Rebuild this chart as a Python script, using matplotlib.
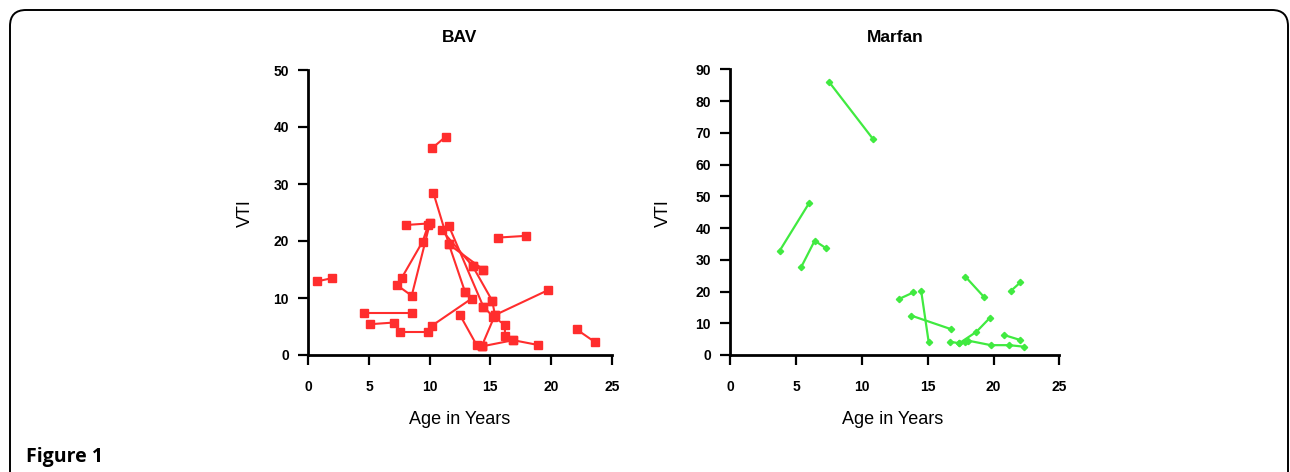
import matplotlib
matplotlib.use("Agg")
import matplotlib.pyplot as plt
from matplotlib.patches import FancyBboxPatch
from matplotlib.transforms import IdentityTransform

plt.rcParams['font.family'] = ['Liberation Sans', 'DejaVu Sans']

# ---------------- data ----------------
# BAV: each entry is one connected trajectory (age, VTI)
bav_age = [
    [0.69, 1.98],
    [10.21, 11.32],
    [22.1, 23.6],
    [15.65, 17.9],
    [4.59, 8.57],
    [5.08, 7.08],
    [7.55, 9.84],
    [10.16, 13.46, 12.91],
    [8.02, 10.02],
    [9.88, 9.42, 7.69, 7.28, 8.52, 10.02],
    [10.30, 11.59, 12.91],
    [11.59, 14.42],
    [10.99, 13.54, 15.16],
    [13.54, 14.42],
    [11.59, 14.42],
    [12.50, 13.87, 14.28],
    [14.28, 15.38, 19.77],
    [14.28, 16.89, 18.95],
    [14.42, 15.24, 16.20, 16.20, 16.89],
    [15.16, 15.38],
]
bav_vti = [
    [12.9, 13.5],
    [36.3, 38.3],
    [4.5, 2.3],
    [20.6, 20.9],
    [7.4, 7.4],
    [5.4, 5.7],
    [4.1, 4.1],
    [5.1, 9.9, 11.1],
    [22.8, 23.1],
    [22.8, 19.9, 13.5, 12.3, 10.4, 23.1],
    [28.5, 19.4, 11.1],
    [19.4, 15.0],
    [21.9, 15.6, 9.5],
    [15.6, 15.0],
    [22.6, 8.5],
    [7.0, 1.75, 1.5],
    [1.5, 7.0, 11.4],
    [1.5, 2.6, 1.75],
    [8.5, 6.7, 5.3, 3.3, 2.6],
    [9.5, 7.0],
]

# Marfan trajectories
mar_age = [
    [7.49, 10.87],
    [3.76, 5.98],
    [5.40, 6.41, 7.29],
    [12.8, 13.9],
    [14.5, 15.07],
    [13.76, 16.8],
    [17.86, 19.25],
    [21.35, 22.05],
    [19.7, 18.7, 17.4],
    [16.67, 17.4, 17.8, 18.1, 19.8, 21.2, 22.35],
    [20.8, 22.05],
]
mar_vti = [
    [86.1, 67.9],
    [32.9, 47.8],
    [27.8, 36.0, 33.6],
    [17.6, 19.7],
    [20.3, 4.2],
    [12.4, 8.1],
    [24.7, 18.4],
    [20.3, 22.9],
    [11.6, 7.3, 3.7],
    [4.2, 3.7, 4.2, 4.5, 3.1, 3.1, 2.6],
    [6.3, 4.7],
]

bav_xticks = [0, 5, 10, 15, 20, 25]
bav_yticks = [0, 10, 20, 30, 40, 50]
mar_xticks = [0, 5, 10, 15, 20, 25]
mar_yticks = [0, 10, 20, 30, 40, 50, 60, 70, 80, 90]

RED = '#ff2d2d'
GREEN = '#40ea40'

W, H = 1290, 472
fig = plt.figure(figsize=(W / 100, H / 100), dpi=100)

# rounded frame (display pixel coordinates)
frame = FancyBboxPatch((10, -40), 1278, H - 10 + 40,
                       boxstyle="round,pad=0,rounding_size=16",
                       transform=IdentityTransform(), fill=False,
                       edgecolor='black', linewidth=1.4)
fig.patches.append(frame)

def style_axes(ax, xticks, yticks, ymax):
    ax.set_xlim(0, 25)
    ax.set_ylim(0, ymax)
    ax.set_xticks(xticks)
    ax.set_yticks(yticks)
    for s in ['top', 'right']:
        ax.spines[s].set_visible(False)
    for s in ['left', 'bottom']:
        ax.spines[s].set_linewidth(2.0)
    ax.tick_params(axis='both', direction='out', length=7, width=1.6,
                   labelsize=10)
    ax.tick_params(axis='y', pad=7)
    ax.tick_params(axis='x', pad=11)
    for lab in ax.get_xticklabels() + ax.get_yticklabels():
        lab.set_fontweight('bold')
    ax.patch.set_alpha(0)

ax1 = fig.add_axes([308.3 / W, 117 / H, 303.4 / W, 285 / H])
for xs, ys in zip(bav_age, bav_vti):
    ax1.plot(xs, ys, color=RED, lw=1.5, marker='s', ms=5.5, mec=RED,
             mfc=RED, clip_on=False)
style_axes(ax1, bav_xticks, bav_yticks, 50)

ax2 = fig.add_axes([730.3 / W, 117 / H, 329 / W, 285.7 / H])
for xs, ys in zip(mar_age, mar_vti):
    ax2.plot(xs, ys, color=GREEN, lw=1.6, marker='D', ms=3.2, mec=GREEN,
             mfc=GREEN, clip_on=False)
style_axes(ax2, mar_xticks, mar_yticks, 90)

# titles and axis labels
fig.text(460 / W, 1 - 37 / H, 'BAV', ha='center', va='center',
         fontsize=12.5, fontweight='bold')
fig.text(895 / W, 1 - 37 / H, 'Marfan', ha='center', va='center',
         fontsize=12.5, fontweight='bold')
fig.text(245 / W, 1 - 213 / H, 'VTI', ha='center', va='center',
         fontsize=13, rotation=90)
fig.text(663 / W, 1 - 213 / H, 'VTI', ha='center', va='center',
         fontsize=13, rotation=90)
fig.text(460 / W, 1 - 419 / H, 'Age in Years', ha='center', va='center',
         fontsize=13)
fig.text(893 / W, 1 - 419 / H, 'Age in Years', ha='center', va='center',
         fontsize=13)
fig.text(26 / W, 1 - 457 / H, 'Figure 1', ha='left', va='center',
         fontsize=14, fontweight='bold', family=['Open Sans', 'DejaVu Sans'])

fig.savefig('out.png', dpi=100)
